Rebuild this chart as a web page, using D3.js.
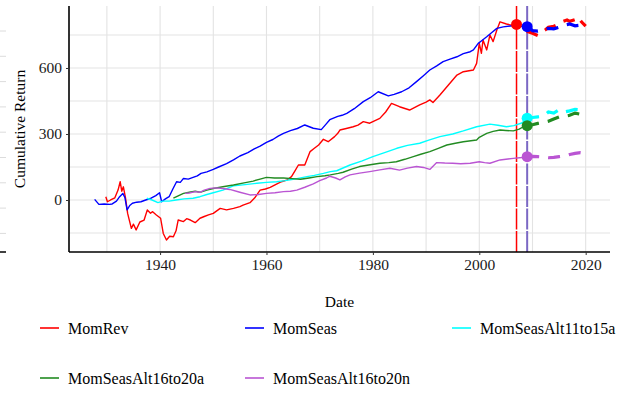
<!DOCTYPE html>
<html><head><meta charset="utf-8">
<script src="https://cdn.jsdelivr.net/npm/d3@7"></script>
<style>
html,body{margin:0;padding:0;background:#fff;}
svg{display:block;font-family:"Liberation Serif","Times New Roman",serif;}
</style></head>
<body><svg id="chart" width="626" height="393"></svg>
<script>
// ---- data (decimal year, cumulative return) ----
const seriesNames = ["MomRev","MomSeas","MomSeasAlt11to15a","MomSeasAlt16to20a","MomSeasAlt16to20n"];
const seriesColors = ["#ff0000","#0000ff","#00ffff","#228b22","#ba55d3"];
const sampleEnds = [2007, 2009, 2009, 2009, 2009];

const momRevIn = [[1929.8,15],[1930.1,-8],[1930.7,0],[1931.5,10],[1932.1,45],[1932.5,83],[1932.8,40],[1933.1,60],[1933.5,10],[1933.9,-61],[1934.6,-129],[1935.0,-110],[1935.5,-136],[1936.2,-100],[1937.0,-91],[1937.6,-45],[1938.2,-60],[1938.6,-53],[1939.3,-68],[1940.1,-83],[1940.6,-152],[1941.2,-182],[1941.8,-165],[1942.5,-167],[1943.0,-140],[1943.4,-91],[1944.4,-98],[1945.0,-85],[1945.7,-91],[1946.6,-103],[1947.5,-83],[1948.3,-75],[1949.1,-68],[1950.0,-61],[1951.3,-38],[1952.5,-45],[1953.8,-38],[1955.0,-30],[1955.6,-23],[1956.9,-12],[1957.8,10],[1958.8,45],[1959.8,50],[1960.7,57],[1961.7,70],[1962.8,83],[1963.8,90],[1964.7,106],[1965.3,130],[1966.0,159],[1967.2,159],[1968.2,220],[1969.0,235],[1969.8,250],[1970.7,276],[1971.6,265],[1972.8,288],[1973.4,303],[1973.8,318],[1975.0,325],[1976.3,333],[1977.2,340],[1978.2,356],[1979.4,349],[1980.3,360],[1981.3,371],[1982.4,400],[1983.5,439],[1985.0,424],[1986.9,409],[1987.8,420],[1988.8,432],[1990.0,445],[1990.7,455],[1991.3,443],[1992.6,477],[1994.2,523],[1995.8,568],[1997.0,583],[1998.9,591],[1999.5,621],[2000.0,712],[2000.4,667],[2000.7,727],[2001.4,682],[2002.0,750],[2002.6,720],[2003.3,773],[2003.9,810],[2005.1,800],[2006.0,795],[2007.0,798]];
const momRevOut = [[2007,798],[2008,780],[2009.2,765],[2010,758],[2011,748],[2011.5,760],[2012.5,775],[2013,785],[2014,790],[2015,800],[2015.5,810],[2016.5,818],[2017,812],[2018,820],[2018.5,832],[2019.2,810],[2020,790]];

const momSeasIn = [[1927.7,3],[1928.5,-20],[1929.5,-18],[1930.5,-20],[1931.0,-18],[1931.8,-5],[1932.4,15],[1933.0,30],[1933.4,10],[1933.8,-45],[1934.3,-25],[1934.8,-15],[1935.6,-10],[1936.4,-8],[1937.3,0],[1938.3,8],[1939.2,20],[1939.9,33],[1940.3,-8],[1941.0,5],[1941.7,15],[1942.4,50],[1943.1,83],[1943.8,80],[1944.4,98],[1945.3,95],[1946.2,103],[1947.0,110],[1947.7,121],[1948.8,128],[1950.0,139],[1951.0,150],[1952.5,165],[1953.8,182],[1955.0,200],[1956.5,215],[1957.7,232],[1958.8,245],[1960.0,262],[1961.2,275],[1962.2,290],[1963.2,303],[1964.5,315],[1965.8,325],[1967.2,341],[1968.8,326],[1970.3,320],[1971.2,345],[1971.9,365],[1973.4,380],[1974.2,385],[1975.1,394],[1976.5,415],[1978.2,447],[1979.5,465],[1981.0,492],[1982.9,473],[1984.0,480],[1985.4,492],[1986.8,510],[1988.2,538],[1989.5,565],[1990.7,591],[1992.0,610],[1993.2,629],[1994.5,640],[1995.8,651],[1997.0,665],[1998.3,674],[1998.9,682],[1999.8,712],[2000.5,725],[2001.4,742],[2002.3,760],[2003.3,780],[2004.5,787],[2005.8,791],[2007.0,793],[2008.0,790],[2009.0,788]];
const momSeasOut = [[2009,788],[2009.5,780],[2010,770],[2011,768],[2012,775],[2013,780],[2014,778],[2015,785],[2016,795],[2017,800],[2018,792],[2019,795],[2020,790]];

const alt11to15aIn = [[1937.5,8],[1938.5,0],[1939.6,-12],[1940.5,-5],[1941.7,-5],[1943.0,0],[1944.5,5],[1946.2,8],[1947.5,15],[1948.8,25],[1950.0,33],[1951.8,45],[1953.8,64],[1956.0,70],[1958.2,76],[1960.0,80],[1961.9,83],[1963.5,88],[1965.0,94],[1967.6,106],[1969.0,112],[1970.7,121],[1972.0,129],[1973.2,133],[1975.7,159],[1978.0,178],[1980.0,197],[1982.2,215],[1984.5,235],[1986.5,248],[1988.8,258],[1990.5,272],[1992.6,288],[1995.0,300],[1997.0,314],[1999.5,333],[2002.0,345],[2003.5,340],[2005.1,333],[2006.5,338],[2008.0,350],[2009.0,372]];
const alt11to15aOut = [[2009,372],[2010,375],[2011,378],[2012,380],[2013,400],[2014,395],[2015,410],[2016,400],[2017,405],[2018,412],[2019,410],[2020,408]];

const alt16to20aIn = [[1942.5,8],[1943.5,20],[1944.4,30],[1945.5,35],[1946.6,40],[1947.5,35],[1948.8,45],[1950.0,52],[1951.8,60],[1953.8,68],[1955.8,78],[1957.5,86],[1958.8,95],[1960.0,103],[1961.5,100],[1963.2,100],[1964.8,97],[1966.4,94],[1968.0,100],[1969.5,106],[1971.0,110],[1972.0,114],[1973.5,121],[1974.4,126],[1976.0,140],[1977.5,152],[1979.5,160],[1981.3,167],[1983.0,170],[1984.4,174],[1986.0,185],[1987.6,197],[1989.0,208],[1990.7,220],[1992.3,235],[1993.9,250],[1995.5,258],[1997.0,265],[1999.5,273],[2000.0,285],[2001.4,303],[2002.6,312],[2003.9,318],[2005.0,316],[2006.4,314],[2007.5,322],[2008.3,333],[2009.0,336]];
const alt16to20aOut = [[2009,338],[2010,342],[2011,348],[2012,352],[2013,358],[2014,368],[2015,377],[2016,380],[2017,385],[2018,395],[2019,390],[2020,388]];

const alt16to20nIn = [[1944.7,30],[1945.5,32],[1946.6,38],[1947.5,35],[1948.3,45],[1949.4,53],[1950.5,55],[1951.8,52],[1953.1,48],[1955.0,35],[1956.9,23],[1958.5,25],[1960.0,30],[1961.6,33],[1963.2,38],[1964.5,40],[1965.7,45],[1967.2,58],[1968.8,73],[1970.0,88],[1971.3,100],[1971.9,108],[1973.0,100],[1973.8,91],[1974.8,105],[1975.7,114],[1977.5,122],[1979.4,129],[1981.3,137],[1983.2,144],[1985.0,136],[1986.5,145],[1988.2,152],[1989.5,148],[1990.7,139],[1992.0,170],[1993.5,168],[1995.0,167],[1996.5,165],[1998.3,167],[2000.0,174],[2001.0,170],[2002.0,167],[2003.9,182],[2005.0,185],[2006.4,189],[2008.0,193],[2009.0,197]];
const alt16to20nOut = [[2009,197],[2010,198],[2011,197],[2012,195],[2013,192],[2014,194],[2015,197],[2016,200],[2017,207],[2018,212],[2019,215],[2020,212]];

const inSample = [momRevIn, momSeasIn, alt11to15aIn, alt16to20aIn, alt16to20nIn];
const outSample = [momRevOut, momSeasOut, alt11to15aOut, alt16to20aOut, alt16to20nOut];

const xTickLabels = [1940, 1960, 1980, 2000, 2020];
const xMinorTicks = [1930, 1950, 1970, 1990, 2010];
const yTickLabels = [0, 300, 600];
const yMinorTicks = [-150, 150, 450, 750];

// ---- layout ----
const svg = d3.select("#chart");
const P = {left: 69, right: 610, top: 6, bottom: 252};
const x = d3.scaleLinear().domain([1922.88, 2024.57]).range([P.left, P.right]);
const y = d3.scaleLinear().domain([-236.4, 881.8]).range([P.bottom, P.top]);

// stray marks at far left
const gStray = svg.append("g");
d3.range(9).forEach(i => {
  gStray.append("line").attr("x1",0).attr("x2",6).attr("y1",31+i*25.3).attr("y2",31+i*25.3)
    .attr("stroke","#dcdcdc").attr("stroke-width",1);
});
gStray.append("line").attr("x1",0).attr("x2",6).attr("y1",252).attr("y2",252).attr("stroke","#000").attr("stroke-width",1.5);

// grid
const grid = svg.append("g");
xTickLabels.concat(xMinorTicks).forEach(t => {
  grid.append("line").attr("x1",x(t)).attr("x2",x(t)).attr("y1",P.top).attr("y2",P.bottom)
    .attr("stroke","#e3e3e3").attr("stroke-width",1.1);
});
yTickLabels.concat(yMinorTicks).forEach(t => {
  grid.append("line").attr("y1",y(t)).attr("y2",y(t)).attr("x1",P.left).attr("x2",P.right)
    .attr("stroke","#e3e3e3").attr("stroke-width",1.1);
});

// vertical sample-end lines
svg.append("line").attr("x1",x(sampleEnds[0])).attr("x2",x(sampleEnds[0])).attr("y1",P.top).attr("y2",P.bottom)
  .attr("stroke","#ff0000").attr("stroke-width",1.5).attr("stroke-dasharray","21,1.5");
svg.append("line").attr("x1",x(sampleEnds[1])).attr("x2",x(sampleEnds[1])).attr("y1",P.top).attr("y2",P.bottom)
  .attr("stroke","#7b68c4").attr("stroke-width",2).attr("stroke-dasharray","21,1.5");

const line = d3.line().x(d => x(d[0])).y(d => y(d[1]));

// in-sample solid lines
inSample.forEach((s,i) => {
  svg.append("path").datum(s).attr("d",line).attr("fill","none")
    .attr("stroke",seriesColors[i]).attr("stroke-width",1.4).attr("stroke-linejoin","round");
});
// out-of-sample dashed lines
outSample.forEach((s,i) => {
  svg.append("path").datum(s).attr("d",line).attr("fill","none")
    .attr("stroke",seriesColors[i]).attr("stroke-width",3.2)
    .attr("stroke-dasharray","12,9").attr("stroke-dashoffset", i===0 ? 9 : 0);
});
// dots at sample ends
outSample.forEach((s,i) => {
  svg.append("circle").attr("cx",x(s[0][0])).attr("cy",y(s[0][1])).attr("r",5.5)
    .attr("fill",seriesColors[i]);
});

// axes
const xAxis = svg.append("g").attr("transform",`translate(0,${P.bottom})`)
  .call(d3.axisBottom(x).tickValues(xTickLabels).tickFormat(d3.format("d")).tickSizeOuter(0).tickSize(3).tickPadding(4));
const yAxis = svg.append("g").attr("transform",`translate(${P.left},0)`)
  .call(d3.axisLeft(y).tickValues(yTickLabels).tickSizeOuter(0).tickSize(3).tickPadding(4));
[xAxis,yAxis].forEach(a => {
  a.select(".domain").attr("stroke","#000").attr("stroke-width",1.6);
  a.selectAll(".tick line").attr("stroke","#333").attr("stroke-width",1);
  a.selectAll(".tick text").attr("font-size",15.5).attr("fill","#1a1a1a")
    .attr("font-family","Liberation Serif, serif");
});
yAxis.select(".domain").attr("d",`M0,${P.top}V${P.bottom}`);
xAxis.select(".domain").attr("d",`M${P.left},0H${P.right}`);

// axis titles
svg.append("text").attr("x",(P.left+P.right)/2).attr("y",307).attr("text-anchor","middle")
  .attr("font-size",15.5).attr("fill","#000").text("Date");
svg.append("text").attr("transform",`translate(25,${(P.top+P.bottom)/2}) rotate(-90)`)
  .attr("text-anchor","middle").attr("font-size",15.5).attr("fill","#000").text("Cumulative Return");

// legend
const legX = [40, 245, 452, 40, 245];
const legY = [328, 328, 328, 378, 378];
seriesNames.forEach((n,i) => {
  const g = svg.append("g").attr("transform",`translate(${legX[i]},${legY[i]})`);
  g.append("line").attr("x1",0).attr("x2",19).attr("y1",0).attr("y2",0)
    .attr("stroke",seriesColors[i]).attr("stroke-width",1.6);
  g.append("text").attr("x",28).attr("y",5.5).attr("font-size",16).attr("fill","#000").text(n);
});
</script></body></html>
